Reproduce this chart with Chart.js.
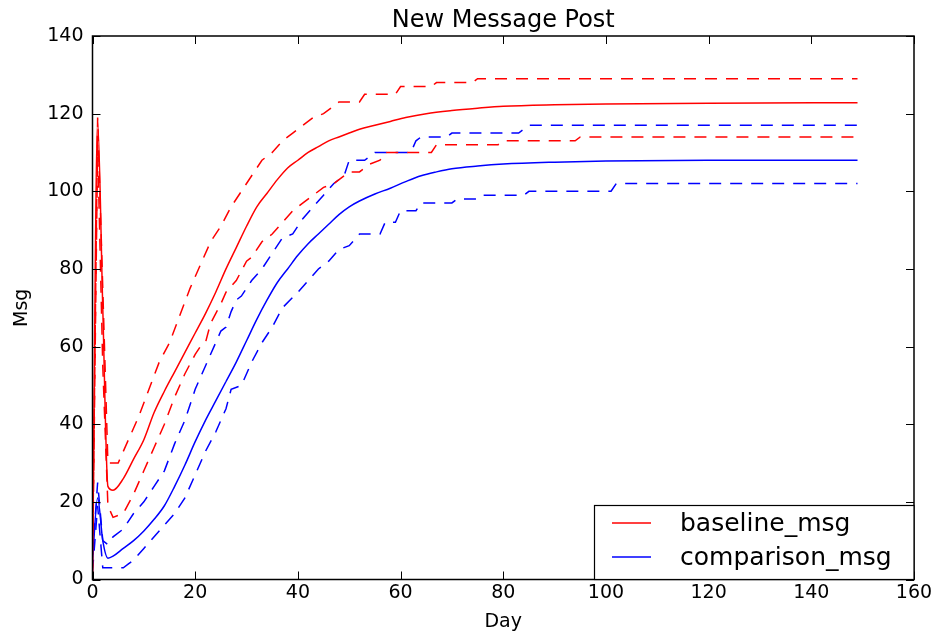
<!DOCTYPE html>
<html>
<head>
<meta charset="utf-8">
<script src="https://cdn.jsdelivr.net/npm/chart.js@4.4.1/dist/chart.umd.min.js"></script>
<style>
  html, body { margin: 0; padding: 0; background: #ffffff; }
  #wrap { width: 938px; height: 636px; position: relative; }
</style>
</head>
<body>
<div id="wrap"><canvas id="c" width="938" height="636"></canvas></div>
<script>
// ---- data (day, value) ----
const chartTitle = 'New Message Post';
const xTitle = 'Day';
const yTitle = 'Msg';
const xTicks = [0, 20, 40, 60, 80, 100, 120, 140, 160];
const yTicks = [0, 20, 40, 60, 80, 100, 120, 140];
const seriesNames = ['baseline_msg', 'comparison_msg'];

const baselineMean = [[0,2],[1,118],[2,70],[3,24],[4,23],[6,26],[8,31],[10,36],[12,43],[14,48.5],[16,53.5],[18,58.5],[20,63.5],[22,68.5],[24,74],[26,80],[28,85.5],[30,91],[32,96],[34,99.5],[36,103],[38,106],[40,108],[42,110],[44,111.5],[46,113],[48,114],[50,115],[52,116],[55,117],[58,118],[61,119],[65,120],[70,120.8],[75,121.4],[80,121.9],[90,122.3],[100,122.5],[120,122.7],[149,122.8]];
const baselineUpper = [[0,3],[1,119],[2,75],[3,30],[5,30],[6,33],[7,36],[9,42],[11,49],[13,56],[15,61],[17,68],[19,75],[21,81],[23,87],[25,91],[27,96],[29,100],[31,104],[33,108],[35,110],[37,113],[39,115],[41,117],[43,119],[45,120],[47,122],[48,123],[52,123],[53,125],[59,125],[60,127],[66,127],[67,128],[74,128],[75,129],[149,129]];
const baselineLower = [[0,1],[1,112],[2,55],[3,19],[4,16],[6,17],[8,22],[10,28],[12,34],[14,40],[16,47],[18,53],[20,58],[21,60],[22,61],[23,66],[25,71],[26,74],[28,77],[30,82],[31,83],[33,87],[35,89],[37,92],[39,95],[41,97],[43,99],[45,101],[47,102],[49,104],[50,105],[52,105],[54,107],[56,108],[57,110],[66,110],[67,112],[79,112],[80,113],[94,113],[95,114],[149,114]];
const comparisonMean = [[0,5],[1,21],[2,10],[3,5.5],[4,6],[6,8],[8,10],[10,12.5],[12,15.5],[14,19],[16,24],[18,29.5],[20,35.5],[22,41],[24,46],[26,51],[28,56],[30,61.5],[32,67],[34,72],[36,76.5],[38,80],[40,83.5],[42,86.5],[44,89],[46,91.5],[48,94],[50,96],[52,97.5],[55,99.3],[58,100.8],[61,102.5],[64,104],[67,105],[70,105.8],[75,106.5],[80,107],[90,107.5],[100,107.8],[120,108],[149,108]];
const comparisonUpper = [[0,6],[1,25],[2,10],[3,9],[4,11],[6,13],[8,17],[10,20],[12,24],[14,28],[16,35],[18,41],[20,49],[22,55],[24,61],[25,64],[26,65],[27,69],[28,72],[29,73],[31,77],[33,80],[35,84],[37,88],[39,89],[41,93],[43,96],[45,99],[47,102],[49,104],[50,108],[53,108],[54,109],[55,110],[62,110],[63,113],[64,114],[69,114],[70,115],[83,115],[85,117],[149,117]];
const comparisonLower = [[0,2],[1,19],[2,3],[3,3],[6,3],[7,4],[8,5],[10,8],[12,11],[14,14],[16,17],[18,21],[20,27],[22,33],[24,38],[26,44],[27,49],[29,50],[31,56],[33,61],[35,65],[37,70],[40,74],[42,77],[44,80],[46,82],[48,85],[50,86],[52,89],[56,89],[57,92],[59,92],[60,95],[63,95],[64,97],[70,97],[71,98],[75,98],[76,99],[84,99],[85,100],[101,100],[102,102],[149,102]];

const RED = '#ff0000';
const BLUE = '#0000ff';
const toXY = arr => arr.map(p => ({x: p[0], y: p[1]}));

function ds(label, arr, color, dashed, legend) {
  const d = {
    label: label,
    data: toXY(arr),
    borderColor: color,
    backgroundColor: color,
    borderWidth: 1.5,
    borderDash: dashed ? [12, 9] : [],
    pointRadius: 0,
    tension: 0,
    fill: false,
    inLegend: legend
  };
  if (!dashed) { d.cubicInterpolationMode = 'monotone'; }
  return d;
}

const FONT = "'DejaVu Sans', 'Liberation Sans', sans-serif";

const framePlugin = {
  id: 'frame',
  afterDraw(chart) {
    const {ctx, chartArea: a, scales} = chart;
    const xs = scales.x, ys = scales.y;
    ctx.save();
    ctx.strokeStyle = '#000';
    ctx.lineWidth = 1.5;
    ctx.strokeRect(a.left, a.top, a.right - a.left, a.bottom - a.top);
    ctx.lineWidth = 1;
    const L = 8;
    ctx.beginPath();
    xs.ticks.forEach(t => {
      const px = Math.round(xs.getPixelForValue(t.value)) + 0.5;
      ctx.moveTo(px, a.bottom); ctx.lineTo(px, a.bottom - L);
      ctx.moveTo(px, a.top); ctx.lineTo(px, a.top + L);
    });
    ys.ticks.forEach(t => {
      const py = Math.round(ys.getPixelForValue(t.value)) + 0.5;
      ctx.moveTo(a.left, py); ctx.lineTo(a.left + L, py);
      ctx.moveTo(a.right, py); ctx.lineTo(a.right - L, py);
    });
    ctx.stroke();
    ctx.fillStyle = '#000';
    ctx.font = '24px ' + FONT;
    ctx.textAlign = 'center';
    ctx.textBaseline = 'alphabetic';
    ctx.fillText(chartTitle, (a.left + a.right) / 2, 27);
    const items = chart.data.datasets.filter(d => d.inLegend);
    const bx = 594, by = 505, bw = a.right - bx, bh = a.bottom - by;
    ctx.fillStyle = '#fff';
    ctx.fillRect(bx, by, bw, bh);
    ctx.strokeStyle = '#000';
    ctx.lineWidth = 1.2;
    ctx.strokeRect(bx + 0.5, by + 0.5, bw - 0.5, bh - 0.5);
    ctx.font = '25px ' + FONT;
    ctx.textAlign = 'left';
    ctx.textBaseline = 'alphabetic';
    items.forEach((d, i) => {
      const ly = by + 18 + i * 34;
      ctx.strokeStyle = d.borderColor;
      ctx.lineWidth = 1.5;
      ctx.setLineDash([]);
      ctx.beginPath();
      ctx.moveTo(612, ly); ctx.lineTo(651, ly);
      ctx.stroke();
      ctx.fillStyle = '#000';
      ctx.fillText(d.label, 680, ly + 8);
    });
    ctx.restore();
  }
};

new Chart(document.getElementById('c'), {
  type: 'line',
  data: {
    datasets: [
      ds(seriesNames[0], baselineMean, RED, false, true),
      ds(seriesNames[1], comparisonMean, BLUE, false, true),
      ds(seriesNames[0] + '_upper', baselineUpper, RED, true, false),
      ds(seriesNames[0] + '_lower', baselineLower, RED, true, false),
      ds(seriesNames[1] + '_upper', comparisonUpper, BLUE, true, false),
      ds(seriesNames[1] + '_lower', comparisonLower, BLUE, true, false)
    ]
  },
  options: {
    responsive: false,
    animation: false,
    devicePixelRatio: 1,
    layout: { padding: { top: 36, right: 24, left: 0, bottom: 0 } },
    plugins: {
      legend: { display: false },
      title: { display: false },
      tooltip: { enabled: false }
    },
    scales: {
      x: {
        type: 'linear',
        min: xTicks[0],
        max: xTicks[xTicks.length - 1],
        afterBuildTicks: s => { s.ticks = xTicks.map(v => ({value: v})); },
        afterFit: s => { s.height = 56.5; s.paddingLeft = 0; s.paddingRight = 0; },
        grid: { display: false, drawTicks: false },
        border: { display: false },
        ticks: { color: '#000', padding: 2, maxRotation: 0, font: { family: FONT, size: 19 } },
        title: { display: true, text: xTitle, color: '#000', padding: { top: 0, bottom: 3 }, font: { family: FONT, size: 19 } }
      },
      y: {
        type: 'linear',
        min: yTicks[0],
        max: yTicks[yTicks.length - 1],
        afterBuildTicks: s => { s.ticks = yTicks.map(v => ({value: v})); },
        afterFit: s => { s.width = 92.5; s.paddingTop = 0; s.paddingBottom = 0; },
        grid: { display: false, drawTicks: false },
        border: { display: false },
        ticks: { color: '#000', padding: 9, font: { family: FONT, size: 19 } },
        title: { display: true, text: yTitle, color: '#000', padding: { top: 11, bottom: 0 }, font: { family: FONT, size: 19 } }
      }
    }
  },
  plugins: [framePlugin]
});
</script>
</body>
</html>
